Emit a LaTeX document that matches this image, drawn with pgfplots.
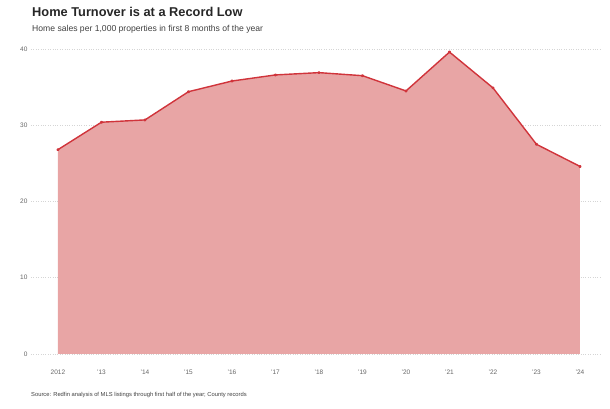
\documentclass[border=0pt]{standalone}
\usepackage{pgfplots}
\pgfplotsset{compat=1.18}
\usepackage{fontspec}
\setmainfont{Liberation Sans}
\definecolor{fillred}{HTML}{E8A5A5}
\definecolor{linered}{HTML}{D0343B}
\definecolor{ticklab}{HTML}{666666}
\definecolor{gridc}{HTML}{D5D5D5}
\begin{document}
\begin{tikzpicture}[x=1pt,y=1pt]
\path[use as bounding box] (0,0) rectangle (610,409);
\begin{axis}[
  at={(31pt,55pt)}, anchor=origin,
  scale only axis, width=569pt, height=305pt,
  xmin=2011.38, xmax=2024.46, ymin=0, ymax=40,
  clip=false,
  axis line style={draw=none},
  tick style={draw=none},
  xtick={2012,...,2024},
  xticklabels={2012,'13,'14,'15,'16,'17,'18,'19,'20,'21,'22,'23,'24},
  ytick={0,10,20,30,40},
  ymajorgrids,
  major grid style={gridc, dotted, line width=0.6pt},
  tick label style={font=\fontsize{6.5}{7}\selectfont, text=ticklab},
  /pgf/number format/assume math mode=true,
  xticklabel style={yshift=-12pt},
  axis on top=false,
]
\addplot[draw=none, fill=fillred] coordinates {
(2012,26.8) (2013,30.4) (2014,30.7) (2015,34.4) (2016,35.8) (2017,36.6) (2018,36.9) (2019,36.5) (2020,34.5) (2021,39.6) (2022,34.9) (2023,27.5) (2024,24.6)
} \closedcycle;
\addplot[linered, line width=1.4pt, line join=round, mark=*, mark size=0.85pt, mark options={fill=linered!80!black, draw=none}] coordinates {
(2012,26.8) (2013,30.4) (2014,30.7) (2015,34.4) (2016,35.8) (2017,36.6) (2018,36.9) (2019,36.5) (2020,34.5) (2021,39.6) (2022,34.9) (2023,27.5) (2024,24.6)
};
\end{axis}
\node[anchor=base west, inner sep=0pt, font=\fontsize{12.8}{14}\selectfont\bfseries, text=black!85] at (32,392) {Home Turnover is at a Record Low};
\node[anchor=base west, inner sep=0pt, font=\fontsize{8.6}{10}\selectfont, text=black!75] at (32,377) {Home sales per 1,000 properties in first 8 months of the year};
\node[anchor=base west, inner sep=0pt, font=\fontsize{5.8}{7}\selectfont, text=black!75] at (31,12) {Source: Redfin analysis of MLS listings through first half of the year; County records};
\end{tikzpicture}
\end{document}
